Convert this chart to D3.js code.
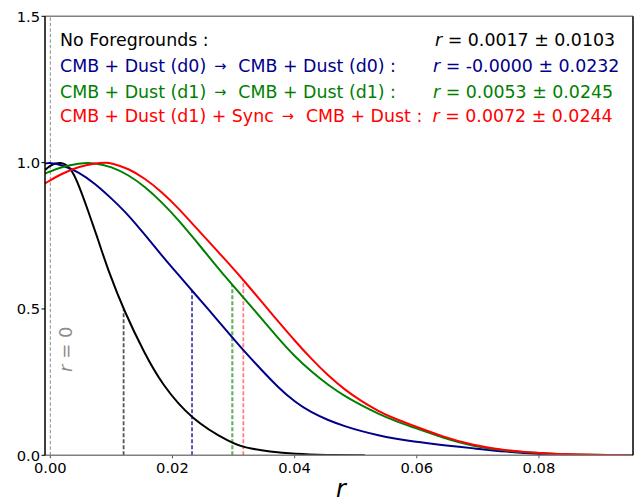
<!DOCTYPE html>
<html><head><meta charset="utf-8">
<script src="https://cdn.jsdelivr.net/npm/d3@7"></script>
<style>body{margin:0;background:#fff}svg{display:block;font-family:"DejaVu Sans",sans-serif}</style>
</head><body>
<svg id="c" width="643" height="504"></svg>
<script>
// ---- data ----
const xTicks = [0.00, 0.02, 0.04, 0.06, 0.08];
const xTickLabels = ["0.00", "0.02", "0.04", "0.06", "0.08"];
const yTicks = [0.0, 0.5, 1.0, 1.5];
const yTickLabels = ["0.0", "0.5", "1.0", "1.5"];

const labelFrom = ["", "CMB + Dust (d0)", "CMB + Dust (d1)", "CMB + Dust (d1) + Sync"];
const labelTo = ["No Foregrounds :", "CMB + Dust (d0) :", "CMB + Dust (d1) :", "CMB + Dust :"];
const seriesColors = ["#000000", "#00008b", "#008000", "#ff0000"];
const rMeans = ["0.0017", "-0.0000", "0.0053", "0.0072"];
const rSigmas = ["0.0103", "0.0232", "0.0245", "0.0244"];

const blackX = [-0.00087, 0.0, 0.0008, 0.0017, 0.0025, 0.0035, 0.0046, 0.0062, 0.0079, 0.0095, 0.0121, 0.0155, 0.0182, 0.0231, 0.0297, 0.0319, 0.036, 0.040, 0.045, 0.0515];
const blackY = [0.975, 0.99, 0.998, 1.0, 0.995, 0.975, 0.927, 0.835, 0.732, 0.630, 0.492, 0.345, 0.245, 0.121, 0.041, 0.026, 0.012, 0.0045, 0.001, 0.0];

const blueX = [-0.00087, 0.0, 0.0019, 0.0046, 0.0073, 0.0100, 0.0128, 0.0155, 0.0182, 0.0210, 0.0231, 0.0253, 0.0297, 0.0319, 0.0346, 0.0373, 0.040, 0.0428, 0.0455, 0.0482, 0.051, 0.0537, 0.0564, 0.0591, 0.0646, 0.0692, 0.0747, 0.0801, 0.085, 0.0954];
const blueY = [0.997, 1.0, 0.992, 0.969, 0.929, 0.878, 0.821, 0.753, 0.684, 0.616, 0.565, 0.513, 0.405, 0.352, 0.291, 0.232, 0.183, 0.145, 0.120, 0.099, 0.082, 0.068, 0.057, 0.048, 0.034, 0.024, 0.012, 0.004, 0.001, 0.0];

const greenX = [-0.00087, 0.0019, 0.0046, 0.0073, 0.0100, 0.0128, 0.0155, 0.0182, 0.0210, 0.0237, 0.0264, 0.0291, 0.0319, 0.0330, 0.0373, 0.040, 0.0428, 0.0455, 0.0482, 0.051, 0.0537, 0.0564, 0.0591, 0.0642, 0.0692, 0.0747, 0.0801, 0.0856, 0.0954];
const greenY = [0.963, 0.986, 0.998, 1.0, 0.986, 0.958, 0.918, 0.866, 0.804, 0.736, 0.667, 0.599, 0.532, 0.506, 0.400, 0.338, 0.285, 0.240, 0.202, 0.170, 0.142, 0.118, 0.098, 0.060, 0.030, 0.015, 0.007, 0.002, 0.0];

const redX = [-0.00087, 0.0019, 0.0046, 0.0073, 0.0092, 0.0100, 0.0128, 0.0155, 0.0182, 0.0210, 0.0237, 0.0264, 0.0291, 0.0319, 0.0351, 0.0373, 0.040, 0.0428, 0.0455, 0.0482, 0.051, 0.0537, 0.0564, 0.0591, 0.0642, 0.0692, 0.0747, 0.0801, 0.0856, 0.0954];
const redY = [0.929, 0.963, 0.986, 0.998, 1.0, 0.998, 0.98, 0.946, 0.901, 0.844, 0.781, 0.720, 0.658, 0.592, 0.512, 0.458, 0.392, 0.328, 0.272, 0.224, 0.184, 0.151, 0.125, 0.104, 0.064, 0.034, 0.016, 0.007, 0.002, 0.0];

const dashColors = ["#555555", "#00008b", "#66b366", "#ff8080"];
const dashWidths = [1.8, 1.3, 2.2, 1.8];

// ---- layout ----
const svg = d3.select("#c");
const L = 45, R = 633, T = 16.3, B = 455.3;
const x = d3.scaleLinear().domain([-0.00087, 0.0954]).range([L, R]);
const y = d3.scaleLinear().domain([0, 1.5]).range([B, T]);

svg.append("defs").append("clipPath").attr("id", "clip")
  .append("rect").attr("x", L).attr("y", T).attr("width", R - L).attr("height", B - T);

const plot = svg.append("g").attr("clip-path", "url(#clip)");

// r = 0 line
plot.append("line").attr("x1", x(0)).attr("x2", x(0)).attr("y1", y(0)).attr("y2", y(1.5))
  .attr("stroke", "#8c8c8c").attr("stroke-width", 1).attr("stroke-dasharray", "3.5,2");

const series = [[blackX, blackY], [blueX, blueY], [greenX, greenY], [redX, redY]];
const line = d3.line().x(d => x(d[0])).y(d => y(d[1])).curve(d3.curveBasis);

function interp(xs, ys, v) {
  const i = d3.bisectRight(xs, v);
  if (i <= 0) return ys[0];
  if (i >= xs.length) return ys[ys.length - 1];
  const t = (v - xs[i - 1]) / (xs[i] - xs[i - 1]);
  return ys[i - 1] + t * (ys[i] - ys[i - 1]);
}

// dashed mean+sigma lines
series.forEach((s, i) => {
  const v = +rMeans[i] + +rSigmas[i];
  const h = interp(s[0], s[1], v);
  plot.append("line").attr("x1", x(v)).attr("x2", x(v)).attr("y1", y(0)).attr("y2", y(h))
    .attr("stroke", dashColors[i]).attr("stroke-width", dashWidths[i]).attr("stroke-dasharray", "4,2");
});

series.forEach((s, i) => {
  plot.append("path").datum(s[0].map((v, j) => [v, s[1][j]]))
    .attr("d", line).attr("fill", "none").attr("stroke", seriesColors[i]).attr("stroke-width", 2);
});

// rotated r = 0 label
const rl = svg.append("text").attr("transform", `translate(72,372) rotate(-90)`)
  .attr("fill", "#8c8c8c").attr("font-size", 18);
rl.append("tspan").attr("font-style", "italic").text("r");
rl.append("tspan").text(" = 0");

// spines
svg.append("line").attr("x1", L).attr("x2", R).attr("y1", T).attr("y2", T).attr("stroke", "#808080").attr("stroke-width", 1.5);
svg.append("line").attr("x1", L).attr("x2", R).attr("y1", B).attr("y2", B).attr("stroke", "#808080").attr("stroke-width", 1.5);
svg.append("line").attr("x1", L).attr("x2", L).attr("y1", T).attr("y2", B).attr("stroke", "#000").attr("stroke-width", 1.5);
svg.append("line").attr("x1", R).attr("x2", R).attr("y1", T).attr("y2", B).attr("stroke", "#000").attr("stroke-width", 1.5);

// y ticks
yTicks.forEach((t, i) => {
  svg.append("line").attr("x1", L - 3.5).attr("x2", L).attr("y1", y(t)).attr("y2", y(t)).attr("stroke", "#000").attr("stroke-width", 1);
  svg.append("text").attr("x", L - 5).attr("y", y(t)).attr("dy", "0.36em").attr("text-anchor", "end")
    .attr("font-size", 14.7).attr("fill", "#000").text(yTickLabels[i]);
});
// x ticks
xTicks.forEach((t, i) => {
  svg.append("line").attr("x1", x(t)).attr("x2", x(t)).attr("y1", B).attr("y2", B + 3).attr("stroke", "#555").attr("stroke-width", 1);
  svg.append("text").attr("x", x(t)).attr("y", 473).attr("text-anchor", "middle")
    .attr("font-size", 14.7).attr("fill", "#000").text(xTickLabels[i]);
});

// x label
svg.append("text").attr("x", (L + R) / 2 + 2).attr("y", 497).attr("text-anchor", "middle")
  .attr("font-size", 24).attr("font-style", "italic").text("r");

// annotations
const baselines = [46, 72, 98, 122];
const rX = [435, 433, 433, 432.5];
labelTo.forEach((n, i) => {
  const t = svg.append("text").attr("x", 60).attr("y", baselines[i]).attr("font-size", 17.4)
    .attr("fill", seriesColors[i]);
  if (labelFrom[i]) {
    t.append("tspan").text(labelFrom[i]);
    t.append("tspan").attr("dx", 8).attr("dy", -1.5).attr("font-size", 14.5).text("\u2192");
    t.append("tspan").attr("dx", 12).attr("dy", 1.5).text(n);
  } else {
    t.append("tspan").text(n);
  }
  const v = svg.append("text").attr("x", rX[i]).attr("y", baselines[i]).attr("font-size", 17.4)
    .attr("fill", seriesColors[i]);
  v.append("tspan").attr("font-style", "italic").text("r");
  v.append("tspan").text(" = " + rMeans[i] + " \u00b1 " + rSigmas[i]);
});
</script>
</body></html>
